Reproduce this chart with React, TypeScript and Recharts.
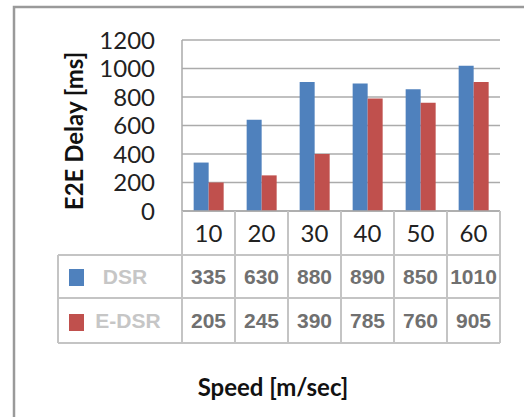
import { BarChart, Bar, XAxis, YAxis, CartesianGrid } from 'recharts';

// values as drawn by the bars
const speeds = ['10', '20', '30', '40', '50', '60'];
const dsrDelay = [340, 640, 905, 895, 855, 1020];
const edsrDelay = [200, 250, 400, 790, 760, 905];

// values printed in the data table under the chart
const dsrTable = ['335', '630', '880', '890', '850', '1010'];
const edsrTable = ['205', '245', '390', '785', '760', '905'];

const yTicks = [0, 200, 400, 600, 800, 1000, 1200];

const chartData = speeds.map((speed, i) => ({
  speed,
  dsr: dsrDelay[i],
  edsr: edsrDelay[i],
  dsrLabel: dsrTable[i],
  edsrLabel: edsrTable[i],
}));

const W = 524;
const H = 417;
const PLOT_LEFT = 182;
const PLOT_RIGHT = 500;
const PLOT_TOP = 40;
const PLOT_BOTTOM = 211;
const ROW1 = 255;
const ROW2 = 298;
const ROW3 = 343;
const TABLE_LEFT = 58;
const LINE = '#c4c4c4';
const BLUE = '#4f81bd';
const RED = '#c0504d';

const halfCell = (PLOT_RIGHT - PLOT_LEFT) / speeds.length / 2;

// x axis tick = one column of the data table
const TableTick = (props: any) => {
  const { x, index } = props;
  const row = chartData[index];
  return (
    <g>
      <line x1={x + halfCell} x2={x + halfCell} y1={PLOT_BOTTOM} y2={ROW3} stroke={LINE} strokeWidth={2} />
      {index === 0 && (
        <line x1={x - halfCell} x2={x - halfCell} y1={PLOT_BOTTOM} y2={ROW3} stroke={LINE} strokeWidth={2} />
      )}
      <text x={x} y={(PLOT_BOTTOM + ROW1) / 2} dy="0.36em" textAnchor="middle" fontFamily="Lato" fontSize={24} fill="#222">
        {row.speed}
      </text>
      <text x={x} y={(ROW1 + ROW2) / 2} dy="0.36em" textAnchor="middle" fontFamily="Liberation Sans" fontWeight="bold" fontSize={21} fill="#707070">
        {row.dsrLabel}
      </text>
      <text x={x} y={(ROW2 + ROW3) / 2} dy="0.36em" textAnchor="middle" fontFamily="Liberation Sans" fontWeight="bold" fontSize={21} fill="#707070">
        {row.edsrLabel}
      </text>
    </g>
  );
};

export default function App() {
  return (
    <div style={{ position: 'absolute', left: 0, top: 0, width: W, height: H, background: '#fff' }}>
      <BarChart
        width={W}
        height={H}
        data={chartData}
        margin={{ top: PLOT_TOP, right: W - PLOT_RIGHT, left: PLOT_LEFT - 60, bottom: H - ROW3 }}
        barCategoryGap="22%"
        barGap={0}
      >
        <CartesianGrid vertical={false} stroke="#ababab" strokeWidth={1.5} />
        <XAxis
          dataKey="speed"
          height={ROW3 - PLOT_BOTTOM}
          tickSize={0}
          tickMargin={0}
          tickLine={false}
          axisLine={{ stroke: '#aaaaaa', strokeWidth: 1.5 }}
          tick={<TableTick />}
          interval={0}
        />
        <YAxis
          width={60}
          domain={[0, 1200]}
          ticks={yTicks}
          interval={0}
          tickSize={0}
          tickMargin={27}
          tickLine={false}
          axisLine={{ stroke: '#aaaaaa', strokeWidth: 1.5 }}
          tick={{ fontFamily: 'Lato', fontSize: 24, fill: '#222' }}
        />
        <Bar dataKey="dsr" fill={BLUE} isAnimationActive={false} />
        <Bar dataKey="edsr" fill={RED} isAnimationActive={false} />
      </BarChart>
      <svg width={W} height={H} style={{ position: 'absolute', left: 0, top: 0, pointerEvents: 'none' }}>
        {/* outer frame, cut off at right and bottom */}
        <path d={`M14 ${H} L14 7 L${W} 7`} fill="none" stroke="#9a9a9a" strokeWidth={2.5} />
        {/* legend column of the table */}
        <line x1={TABLE_LEFT} x2={PLOT_RIGHT} y1={ROW1} y2={ROW1} stroke={LINE} strokeWidth={2} />
        <line x1={TABLE_LEFT} x2={PLOT_RIGHT} y1={ROW2} y2={ROW2} stroke={LINE} strokeWidth={2} />
        <line x1={TABLE_LEFT} x2={PLOT_RIGHT} y1={ROW3} y2={ROW3} stroke={LINE} strokeWidth={2} />
        <line x1={TABLE_LEFT} x2={TABLE_LEFT} y1={ROW1} y2={ROW3} stroke={LINE} strokeWidth={2} />
        <rect x={69} y={269} width={15} height={17} fill={BLUE} />
        <rect x={69} y={314} width={15} height={17} fill={RED} />
        <text x={125} y={(ROW1 + ROW2) / 2} dy="0.36em" textAnchor="middle" fontFamily="Liberation Sans" fontWeight="bold" fontSize={21} fill="#c6c6c6">
          DSR
        </text>
        <text x={128} y={(ROW2 + ROW3) / 2} dy="0.36em" textAnchor="middle" fontFamily="Liberation Sans" fontWeight="bold" fontSize={21} fill="#c6c6c6">
          E-DSR
        </text>
        <text
          x={83}
          y={131}
          textAnchor="middle"
          fontFamily="Lato"
          fontWeight="bold"
          fontSize={24}
          fill="#111"
          transform="rotate(-90 83 131)"
        >
          E2E Delay [ms]
        </text>
        <text x={273} y={396} textAnchor="middle" fontFamily="Lato" fontWeight="bold" fontSize={24} fill="#111">
          Speed [m/sec]
        </text>
      </svg>
    </div>
  );
}
